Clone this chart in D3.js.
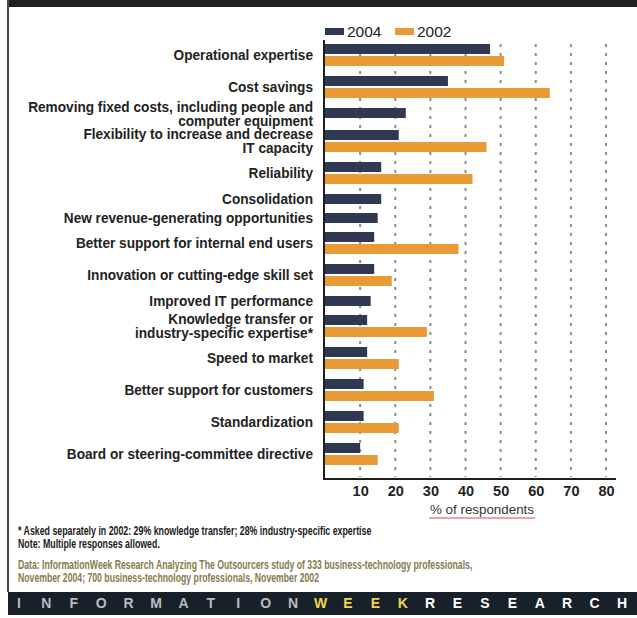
<!DOCTYPE html>
<html><head><meta charset="utf-8">
<script src="https://cdn.jsdelivr.net/npm/d3@7"></script>
<style>
body{margin:0;background:#fff;}
svg{display:block;}
text{font-family:"Liberation Sans",Arial,sans-serif;}
</style></head>
<body><svg id="c" width="637" height="618"></svg>
<script>
const categories = [
  "Operational expertise",
  "Cost savings",
  "Removing fixed costs, including people and\ncomputer equipment",
  "Flexibility to increase and decrease\nIT capacity",
  "Reliability",
  "Consolidation",
  "New revenue-generating opportunities",
  "Better support for internal end users",
  "Innovation or cutting-edge skill set",
  "Improved IT performance",
  "Knowledge transfer or\nindustry-specific expertise*",
  "Speed to market",
  "Better support for customers",
  "Standardization",
  "Board or steering-committee directive"
];
const series = ["2004", "2002"];
const values2004 = [47, 35, 23, 21, 16, 16, 15, 14, 14, 13, 12, 12, 11, 11, 10];
const values2002 = [51, 64, null, 46, 42, null, null, 38, 19, null, 29, 21, 31, 21, 15];
const xTicks = [10, 20, 30, 40, 50, 60, 70, 80];
const axisTitle = "% of respondents";
const footnotes = [
  "* Asked separately in 2002: 29% knowledge transfer; 28% industry-specific expertise",
  "Note: Multiple responses allowed."
];
const sourceLines = [
  "Data: InformationWeek Research Analyzing The Outsourcers study of 333 business-technology professionals,",
  "November 2004; 700 business-technology professionals, November 2002"
];
const brandWords = [["INFORMATION", "#b9bcc0"], ["WEEK", "#f2d54a"], ["RESEARCH", "#ffffff"]];

const colors = {"2004": "#2f3a52", "2002": "#e89b35"};
const svg = d3.select("#c");

// condensed look: compress a text group horizontally so a reference string hits a width
function condensedGroup(parent, anchorX, fontSize, weight, refText, refWidth) {
  const probe = svg.append("text").attr("font-size", fontSize).attr("font-weight", weight).text(refText);
  const w = probe.node().getComputedTextLength();
  probe.remove();
  const f = refWidth / w;
  return parent.append("g").attr("transform", `translate(${anchorX},0) scale(${f},1)`)
    .attr("font-size", fontSize).attr("font-weight", weight);
}

// frame
svg.append("rect").attr("x", 8).attr("y", 0).attr("width", 629).attr("height", 7).attr("fill", "#231f20");
svg.append("line").attr("x1", 8).attr("x2", 8).attr("y1", 0).attr("y2", 592)
  .attr("stroke", "#4a4a4a").attr("stroke-width", 2);

const x = d3.scaleLinear().domain([0, 80]).range([325, 606]);

// row layout computed from data: pairs take more room than single bars,
// single bars with two-line labels need a little extra room
const barH = 10, pairGap = 2, stepPair = 32, stepSingle = 19, stepSingleTwoLine = 22;
const rows = [];
let yCur = 44;
categories.forEach((c, i) => {
  const has2 = values2002[i] != null;
  const twoLine = c.includes("\n");
  rows.push({cat: c, i, y: Math.round(yCur), has2, h: has2 ? barH * 2 + pairGap : barH});
  yCur += has2 ? stepPair : (twoLine ? stepSingleTwoLine : stepSingle);
});

const plotTop = 40, plotBottom = 479;

// grid
svg.append("g").selectAll("line").data(xTicks).join("line")
  .attr("x1", d => x(d)).attr("x2", d => x(d))
  .attr("y1", plotTop + 4).attr("y2", plotBottom - 2)
  .attr("stroke", "#8a8a8a").attr("stroke-width", 2).attr("stroke-dasharray", "3,6");

// bars
const gBars = svg.append("g");
rows.forEach(r => {
  gBars.append("rect").attr("x", x(0)).attr("y", r.y)
    .attr("width", x(values2004[r.i]) - x(0)).attr("height", barH).attr("fill", colors["2004"]);
  if (r.has2) {
    gBars.append("rect").attr("x", x(0)).attr("y", r.y + barH + pairGap)
      .attr("width", x(values2002[r.i]) - x(0)).attr("height", barH).attr("fill", colors["2002"]);
  }
});

// category labels
const gLab = condensedGroup(svg, 313, 14, "bold", "Removing fixed costs, including people and", 285)
  .attr("fill", "#222").attr("text-anchor", "end");
rows.forEach(r => {
  const lines = r.cat.split("\n");
  const cy = r.y + r.h / 2 + (lines.length > 1 && !r.has2 ? 1 : 0);
  const t = gLab.append("text").attr("x", 0).attr("y", cy);
  lines.forEach((ln, k) => {
    t.append("tspan").attr("x", 0)
      .attr("y", cy + (k - (lines.length - 1) / 2) * 14)
      .attr("dy", "0.35em").text(ln);
  });
});

// axes
svg.append("line").attr("x1", 324).attr("x2", 324).attr("y1", plotTop).attr("y2", plotBottom + 1)
  .attr("stroke", "#1e1e1e").attr("stroke-width", 2);
svg.append("line").attr("x1", 323).attr("x2", 616).attr("y1", plotBottom).attr("y2", plotBottom)
  .attr("stroke", "#1e1e1e").attr("stroke-width", 2);

const xAxis = d3.axisBottom(x).tickValues(xTicks).tickSize(0).tickPadding(0);
const ga = svg.append("g").attr("transform", `translate(0,${plotBottom + 7})`).call(xAxis);
ga.select(".domain").remove();
ga.selectAll("text").attr("font-family", "Liberation Sans, Arial, sans-serif")
  .attr("font-size", 14.5).attr("font-weight", "bold").attr("fill", "#222");

// axis title
svg.append("text").attr("x", 482).attr("y", 514)
  .attr("text-anchor", "middle").attr("font-size", 13).attr("fill", "#333")
  .attr("textLength", 104).attr("lengthAdjust", "spacingAndGlyphs").text(axisTitle);
svg.append("line").attr("x1", 429).attr("x2", 535).attr("y1", 518).attr("y2", 518)
  .attr("stroke", "#e08a8a").attr("stroke-width", 1.5);

// legend
const lg = svg.append("g").attr("font-size", 15.5).attr("fill", "#222");
const legendX = [325, 395];
series.forEach((s, k) => {
  lg.append("rect").attr("x", legendX[k]).attr("y", 28).attr("width", 19).attr("height", 7).attr("fill", colors[s]);
  lg.append("text").attr("x", legendX[k] + 22).attr("y", 31.5).attr("dy", "0.37em").text(s);
});

// footnotes
const fn = condensedGroup(svg, 18, 12.5, "bold", footnotes[0], 354).attr("fill", "#1a1a1a");
footnotes.forEach((t, k) => fn.append("text").attr("x", 0).attr("y", 535 + k * 13).text(t));
const src = condensedGroup(svg, 18, 12.5, "bold", sourceLines[0], 455).attr("fill", "#857a4c");
sourceLines.forEach((t, k) => src.append("text").attr("x", 0).attr("y", 569 + k * 13).text(t));

// brand bar
svg.append("rect").attr("x", 8).attr("y", 592).attr("width", 629).attr("height", 23).attr("fill", "#18202a");
const letters = [];
brandWords.forEach(([w, col]) => w.split("").forEach(ch => letters.push({ch, col})));
const bx = d3.scalePoint().domain(d3.range(letters.length)).range([19, 622]);
svg.append("g").attr("font-weight", "bold")
  .attr("font-size", 14).attr("text-anchor", "middle")
  .selectAll("text").data(letters).join("text")
  .attr("x", (d, i) => bx(i)).attr("y", 608).attr("fill", d => d.col).text(d => d.ch);
</script></body></html>
